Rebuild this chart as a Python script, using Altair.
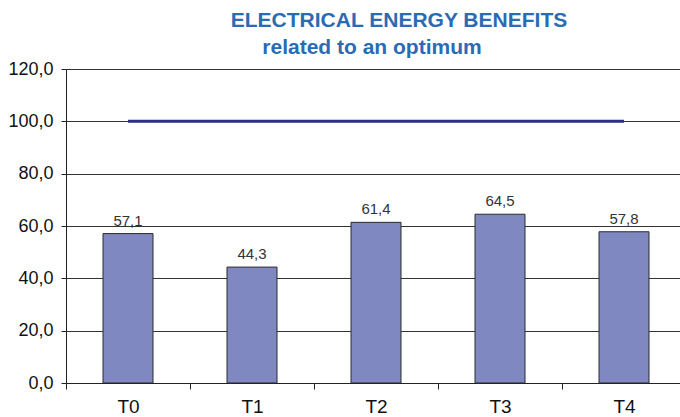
import altair as alt
import pandas as pd

# Test runs and their electrical energy benefit (% of optimum)
CATEGORIES = ["T0", "T1", "T2", "T3", "T4"]
BENEFITS = [57.1, 44.3, 61.4, 64.5, 57.8]
OPTIMUM = [100.0, 100.0, 100.0, 100.0, 100.0]
TITLE = "ELECTRICAL ENERGY BENEFITS"
SUBTITLE = "related to an optimum"

df = pd.DataFrame({
    "test": CATEGORIES,
    "benefit": BENEFITS,
    "optimum": OPTIMUM,
    "label": [f"{v:.1f}".replace(".", ",") for v in BENEFITS],
})

FONT = "Liberation Sans"
x_enc = alt.X(
    "test:N",
    sort=CATEGORIES,
    scale=alt.Scale(paddingInner=0, paddingOuter=0, range=[0, 620]),
    axis=alt.Axis(
        title=None, labelAngle=0, labelFontSize=19, labelFont=FONT,
        labelColor="#111", labelPadding=8, tickBand="extent", tickSize=6,
        tickColor="#222", domainColor="#222", grid=False,
    ),
)
y_scale = alt.Scale(domain=[0, 120], nice=False)

bars = alt.Chart(df).mark_bar(
    width=50, color="#7f88c0", stroke="#2b2b2b", strokeWidth=1
).encode(
    x=x_enc,
    y=alt.Y(
        "benefit:Q", scale=y_scale,
        axis=alt.Axis(
            title=None, values=[0, 20, 40, 60, 80, 100, 120],
            labelExpr="replace(format(datum.value, '.1f'), '.', ',')",
            labelFontSize=18, labelFont=FONT, labelColor="#111",
            tickSize=5, tickColor="#222", domainColor="#222",
            gridColor="#333", gridWidth=1, labelPadding=8,
        ),
    ),
)

labels = alt.Chart(df).mark_text(
    baseline="bottom", dy=-5, fontSize=15, font=FONT, color="#333"
).encode(x=alt.X("test:N", sort=CATEGORIES), y=alt.Y("benefit:Q", scale=y_scale), text="label:N")

optimum = alt.Chart(df).mark_line(color="#2a2d86", strokeWidth=3).encode(
    x=alt.X("test:N", sort=CATEGORIES), y=alt.Y("optimum:Q", scale=y_scale)
)

title_main = alt.Chart(pd.DataFrame({"t": [TITLE]})).mark_text(
    font=FONT, fontSize=21, fontWeight="bold", color="#2a6bb4",
    align="center", baseline="alphabetic"
).encode(text="t:N", x=alt.value(333), y=alt.value(-42))

title_sub = alt.Chart(pd.DataFrame({"t": [SUBTITLE]})).mark_text(
    font=FONT, fontSize=21, fontWeight="bold", color="#2a6bb4",
    align="center", baseline="alphabetic"
).encode(text="t:N", x=alt.value(306), y=alt.value(-15))

chart = alt.layer(bars, optimum, labels, title_main, title_sub).properties(
    width=614, height=314,
    padding={"left": 66, "top": 69, "right": 0, "bottom": 34},
    autosize=alt.AutoSizeParams(type="none"),
).configure_view(stroke=None).configure(background="white")

chart.save("out.html", embed_options={"renderer": "svg", "actions": False})
